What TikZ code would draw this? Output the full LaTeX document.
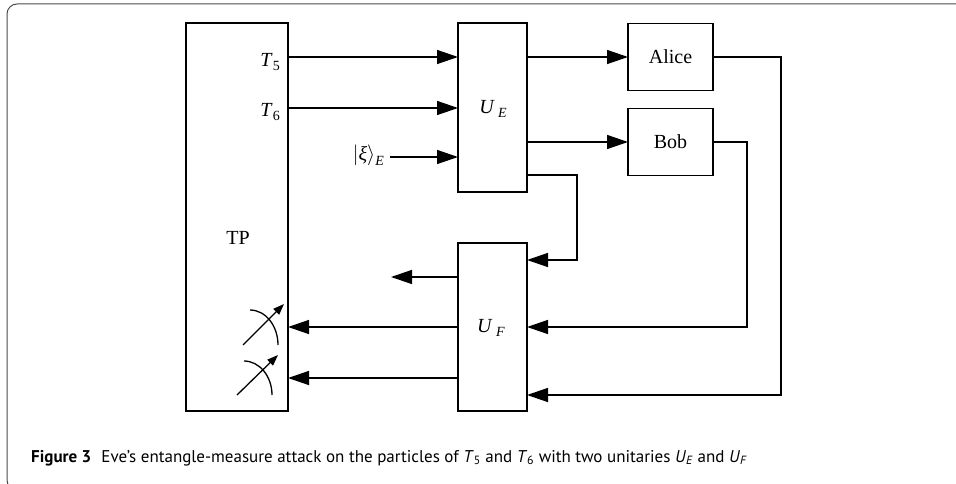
\documentclass[tikz,border=0pt]{standalone}
\usepackage{fontspec}
\setmainfont{Liberation Serif}
\newfontfamily\capfont{PT Sans}
\usetikzlibrary{arrows.meta,calc}
\newcommand{\mysub}[1]{\raisebox{-0.35ex}{\fontsize{14}{14}\selectfont #1}}
\begin{document}
\begin{tikzpicture}[x=1pt,y=-1pt,
  box/.style={draw,line width=1.3pt,inner sep=0pt,outer sep=0pt},
  conn/.style={line width=1.4pt},
  arr/.style={conn,-{Triangle[length=21pt,width=14pt]}},
  marr/.style={line width=1.3pt,-{Triangle[length=11pt,width=8pt]}},
  lbl/.style={font=\fontsize{20}{24}\selectfont,inner sep=0pt}
]
\useasboundingbox (0,0) rectangle (956,484);
% frame
\draw[gray!60!black,line width=1pt,rounded corners=10pt] (970,4) -- (7,4) -- (7,490) -- (60,490);

% boxes
\node[box,minimum width=102pt,minimum height=388pt] (tp) at (237,217) {};
\node[lbl] (tpl) at (238,238) {TP};
\node[box,minimum width=69pt,minimum height=169pt] (ue) at (492.5,107.5) {};
\node[lbl] (uel) at (493,109) {\textit{U}\,\mysub{\textit{E}}};
\node[box,minimum width=69pt,minimum height=168pt] (uf) at (492.5,327) {};
\node[lbl] (ufl) at (491,328) {\textit{U}\,\mysub{\textit{F}}};
\node[box,minimum width=85pt,minimum height=67pt,font=\fontsize{20}{24}\selectfont] (alice) at (670.5,57) {Alice};
\node[box,minimum width=85pt,minimum height=67pt,font=\fontsize{20}{24}\selectfont] (bob) at (670.5,142) {Bob};

% labels
\node[lbl,anchor=east] (t5) at (280,62) {\textit{T}\mysub{5}};
\node[lbl,anchor=east] (t6) at (280,112) {\textit{T}\mysub{6}};
\node[lbl,anchor=east] (xi) at (384,155) {$\bigl|\textit{ξ}\bigr\rangle$\raisebox{-0.6ex}{\fontsize{14}{14}\selectfont\textit{E}}};

% coordinates
\coordinate (a5) at (458,57);
\coordinate (a6) at (458,108);
\coordinate (axi) at (458,157);
\coordinate (xs) at (390,157);
\coordinate (ueo) at (527,175);
\coordinate (d1) at (577,260);
\coordinate (ufi1) at (527,260);
\coordinate (ufi3) at (527,395);
\coordinate (ufo1) at (458,277);
\coordinate (fo1) at (391,277);
\coordinate (ufo3) at (458,378);

% connectors
\draw[arr] (tp.east |- a5) -- (a5);
\draw[arr] (tp.east |- a6) -- (a6);
\draw[arr] (xs) -- (axi);
\draw[arr] (ue.east |- alice) -- (alice.west);
\draw[arr] (ue.east |- bob) -- (bob.west);
\draw[arr] (ueo) -| (d1) -- (ufi1);
\draw[arr] (bob.east) -- ++(34,0) |- (uf.east);
\draw[arr] (alice.east) -- ++(68,0) |- (ufi3);
\draw[arr] (ufo1) -- (fo1);
\draw[arr] (uf.west) -- (tp.east |- uf.west);
\draw[arr] (ufo3) -- (tp.east |- ufo3);

% meters
\draw[line width=1.3pt] (250,310) arc[start angle=-90,end angle=0,x radius=28,y radius=35];
\draw[marr] (243,345) -- (284,304);
\draw[line width=1.3pt] (244,361) arc[start angle=-90,end angle=0,x radius=28,y radius=34];
\draw[marr] (237,395) -- (278,355);

% caption
\node[anchor=base west,inner sep=0pt,font=\capfont\fontsize{17}{20}\selectfont] (cap) at (31,462)
  {\textbf{Figure 3}\hspace{0.6em}Eve’s entangle-measure attack on the particles of \textit{T}\textsubscript{5} and \textit{T}\textsubscript{6} with two unitaries \textit{U}\textsubscript{\textit{E}} and \textit{U}\textsubscript{\textit{F}}};
\end{tikzpicture}
\end{document}
